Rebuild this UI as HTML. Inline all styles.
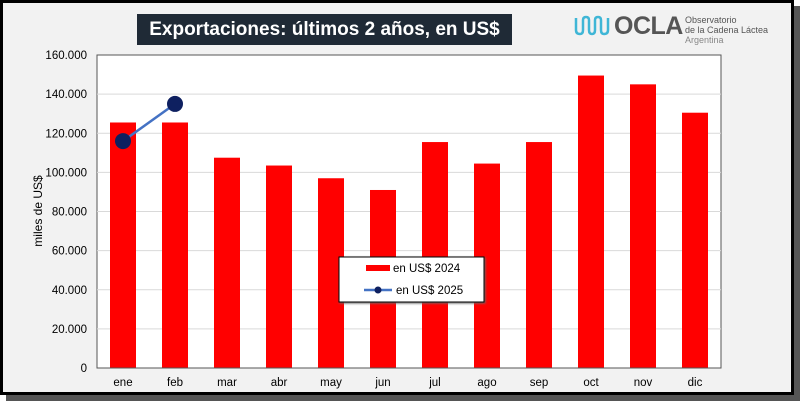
<!DOCTYPE html>
<html><head><meta charset="utf-8"><style>
body{margin:0;width:800px;height:401px;overflow:hidden;background:#fff;font-family:"Liberation Sans",sans-serif}
#frame{position:absolute;left:0;top:0;width:794px;height:395px;border:3px solid #000;background:#f2f2f2;box-sizing:border-box}
#shadow{position:absolute;left:6px;top:6px;width:794px;height:395px;background:#555}
#title{position:absolute;left:137px;top:14px;width:375px;height:31px;background:#1f2a36;color:#fff;font-size:19px;font-weight:bold;text-align:center;line-height:31px;white-space:nowrap;overflow:hidden}
.lt{white-space:nowrap}
</style></head><body>
<div id="shadow"></div>
<div id="frame"></div>
<div id="title">Exportaciones: últimos 2 años, en US$</div>
<div style="position:absolute;left:573px;top:12px;width:210px;height:36px">
<svg width="40" height="24" style="position:absolute;left:0;top:2px"><path d="M3 4 V16 Q3 20 7 20 Q10 20 10 16 V6 Q10 3 13 3 Q16 3 16 6 V16 Q16 20 19 20 Q22 20 22 16 V6 Q22 3 25 3 Q28 3 28 6 V16 Q28 20 31 20 Q35 20 35 16 V4" fill="none" stroke="#3fb6d6" stroke-width="2.5"/></svg>
<span class="lt" style="position:absolute;left:41px;top:0;font-size:25px;font-weight:bold;color:#555;letter-spacing:-0.5px">OCLA</span>
<span class="lt" style="position:absolute;left:112px;top:3px;font-size:9px;color:#555;line-height:10px">Observatorio<br>de la Cadena Láctea<br><span style="color:#888">Argentina</span></span>
</div>
<svg id="chart" width="800" height="401" style="position:absolute;left:0;top:0"></svg>
<script>
const categories=["ene","feb","mar","abr","may","jun","jul","ago","sep","oct","nov","dic"];
const values2024=[125500,125500,107500,103500,97000,91000,115500,104500,115500,149500,145000,130500];
const values2025=[116000,135000];
const yTicks=[0,20000,40000,60000,80000,100000,120000,140000,160000];
const yTickLabels=["0","20.000","40.000","60.000","80.000","100.000","120.000","140.000","160.000"];
const NS="http://www.w3.org/2000/svg";
const svg=document.getElementById('chart');
const L=97,R=721,T=55,B=368,yMax=160000;
const step=(R-L)/categories.length;
const x=i=>L+step*(i+0.5);
const y=v=>B-(v/yMax)*(B-T);
function mk(t,a,p){const e=document.createElementNS(NS,t);for(const k in a)e.setAttribute(k,a[k]);(p||svg).appendChild(e);return e;}
const bg=mk('rect',{x:L,y:T,width:R-L,height:B-T,fill:'#fff',stroke:'#555','stroke-width':1});


yTicks.forEach((v,i)=>{
 if(v>0&&v<yMax){const g=mk('line',{x1:L,x2:R,y1:y(v),y2:y(v),stroke:'#d9d9d9','stroke-width':1});
 
 }
 const t=mk('text',{x:L-10,y:y(v)+4,'text-anchor':'end','font-size':11.5,fill:'#000'});
 t.textContent=yTickLabels[i];
 
 
});
const bw=26;
categories.forEach((c,i)=>{
 const r=mk('rect',{x:x(i)-bw/2,y:y(values2024[i]),width:bw,height:B-y(values2024[i]),fill:'#ff0000'});
 
 
 const t=mk('text',{x:x(i),y:B+18,'text-anchor':'middle','font-size':11.5,fill:'#000'});
 t.textContent=c;
 
 
});
const base=mk('line',{x1:L,x2:R,y1:B,y2:B,stroke:'#555'});


const pts=values2025.map((v,i)=>x(i)+','+y(v)).join(' ');
const pl=mk('polyline',{points:pts,fill:'none',stroke:'#4472c4','stroke-width':2.5});


values2025.forEach((v,i)=>{
 const c=mk('circle',{cx:x(i),cy:y(v),r:8,fill:'#0e2060'});
 
 
});
const yt=mk('text',{x:0,y:0,transform:'translate(42,211) rotate(-90)','text-anchor':'middle','font-size':12,fill:'#000'});
yt.textContent='miles de US$';


const lg=mk('g',{});


mk('rect',{x:339,y:257,width:145,height:45,fill:'#fff',stroke:'#000','stroke-width':1,style:'filter:drop-shadow(1px 1px 1px #666)'},lg);
mk('rect',{x:366,y:265,width:24,height:6,fill:'#ff0000'},lg);
const l1=mk('text',{x:393,y:272,'font-size':11.5},lg);l1.textContent='en US$ 2024';


mk('line',{x1:364,x2:392,y1:290,y2:290,stroke:'#4472c4','stroke-width':2.5},lg);
mk('circle',{cx:378,cy:290,r:3.5,fill:'#0e2060'},lg);
const l2=mk('text',{x:396,y:294,'font-size':11.5},lg);l2.textContent='en US$ 2025';


</script>
</body></html>
